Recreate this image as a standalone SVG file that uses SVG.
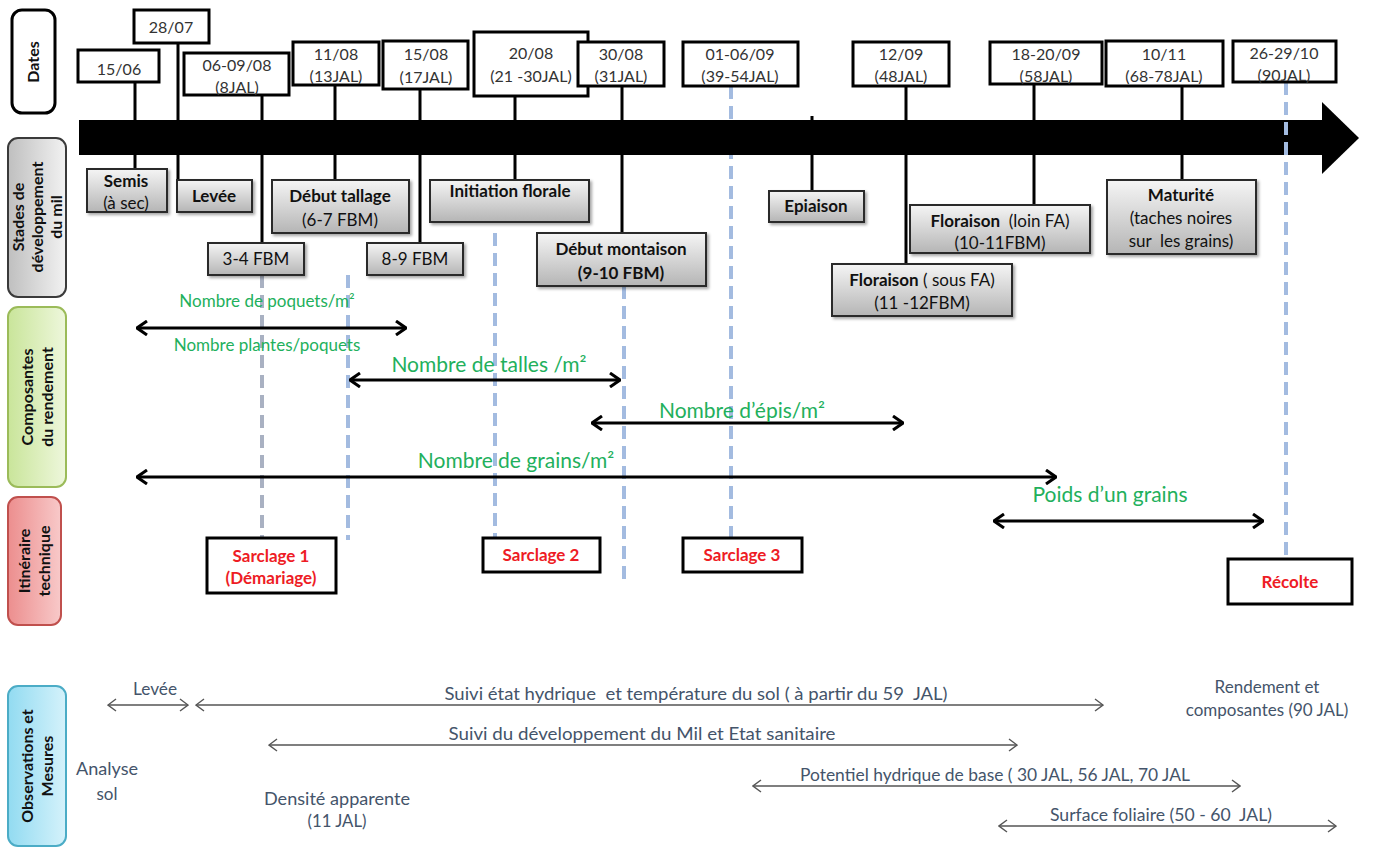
<svg xmlns="http://www.w3.org/2000/svg" width="1381" height="848" viewBox="0 0 1381 848">
<defs>
<linearGradient id="gStage" x1="0" y1="0" x2="0" y2="1"><stop offset="0" stop-color="#f5f5f5"/><stop offset="1" stop-color="#b5b5b5"/></linearGradient>
<linearGradient id="gGray" x1="0" y1="0" x2="1" y2="0"><stop offset="0" stop-color="#bfbfbf"/><stop offset="1" stop-color="#f2f2f2"/></linearGradient>
<linearGradient id="gGreen" x1="0" y1="0" x2="1" y2="0"><stop offset="0" stop-color="#c9e59a"/><stop offset="1" stop-color="#eef7dc"/></linearGradient>
<linearGradient id="gRed" x1="0" y1="0" x2="1" y2="0"><stop offset="0" stop-color="#ec8e8e"/><stop offset="1" stop-color="#f8c9c9"/></linearGradient>
<linearGradient id="gBlue" x1="0" y1="0" x2="1" y2="0"><stop offset="0" stop-color="#92dbf1"/><stop offset="1" stop-color="#d5f2fb"/></linearGradient>
<filter id="sh" x="-10%" y="-10%" width="130%" height="140%"><feDropShadow dx="2" dy="2" stdDeviation="1.5" flood-color="#000" flood-opacity="0.35"/></filter>
<marker id="ah" viewBox="0 0 12 16" refX="11" refY="8" markerWidth="12" markerHeight="16" markerUnits="userSpaceOnUse" orient="auto-start-reverse"><path d="M1,1 L11,8 L1,15" fill="none" stroke="#000" stroke-width="3" stroke-linejoin="miter"/></marker>
<marker id="ahs" viewBox="0 0 10 14" refX="9" refY="7" markerWidth="10" markerHeight="14" markerUnits="userSpaceOnUse" orient="auto-start-reverse"><path d="M1,1 L9,7 L1,13" fill="none" stroke="#555" stroke-width="1.4"/></marker>
<style>
text{font-family:Lato,"Liberation Sans",sans-serif;white-space:pre}
.date{fill:#fff;stroke:#000;stroke-width:3}
.dt{font-size:16px;fill:#333;text-anchor:middle}
.stage{fill:url(#gStage);stroke:#2b2b2b;stroke-width:2;filter:url(#sh)}
.st{font-size:17px;fill:#111;text-anchor:middle}
.b{font-weight:bold}
.conn{stroke:#000;stroke-width:3;fill:none}
.dash{stroke:#a3bbe0;stroke-width:4;stroke-dasharray:13 7;fill:none}
.dashg{stroke:#a9b1c2;stroke-width:4;stroke-dasharray:13 7;fill:none}
.arr{stroke:#000;stroke-width:3;fill:none;marker-start:url(#ah);marker-end:url(#ah)}
.arrs{stroke:#555;stroke-width:1.3;fill:none}
.gr{fill:#22b05c;text-anchor:middle}
.sar{fill:#fff;stroke:#000;stroke-width:3}
.rt{font-size:17px;font-weight:bold;fill:#ee1c25;text-anchor:middle}
.ot{font-size:17px;fill:#44546a;text-anchor:middle}
.lab{font-size:16px;font-weight:bold;fill:#111;text-anchor:middle}
</style>
</defs>

<!-- Row labels -->
<g id="label-dates"><rect x="12" y="10" width="43" height="103" rx="10" fill="#fff" stroke="#000" stroke-width="3"/><text class="lab" transform="translate(33.5,62) rotate(-90)" dy="5">Dates</text></g>
<g id="label-stades"><rect x="8" y="138" width="58" height="159" rx="10" fill="url(#gGray)" stroke="#3a3a3a" stroke-width="2"/><text class="lab" transform="translate(37,217) rotate(-90)"><tspan x="0" y="-13">Stades de</tspan><tspan x="0" y="6">développement</tspan><tspan x="0" y="25">du mil</tspan></text></g>
<g id="label-composantes"><rect x="8" y="307" width="58" height="180" rx="10" fill="url(#gGreen)" stroke="#9bbb59" stroke-width="2"/><text class="lab" transform="translate(37,397) rotate(-90)"><tspan x="0" y="-4">Composantes</tspan><tspan x="0" y="16">du rendement</tspan></text></g>
<g id="label-itineraire"><rect x="8" y="497" width="53" height="128" rx="10" fill="url(#gRed)" stroke="#c0504d" stroke-width="2"/><text class="lab" transform="translate(34,561) rotate(-90)"><tspan x="0" y="-4">Itinéraire</tspan><tspan x="0" y="16">technique</tspan></text></g>
<g id="label-observations"><rect x="8" y="686" width="58" height="160" rx="10" fill="url(#gBlue)" stroke="#4bacc6" stroke-width="2"/><text class="lab" transform="translate(37,766) rotate(-90)"><tspan x="0" y="-4">Observations et</tspan><tspan x="0" y="16">Mesures</tspan></text></g>

<!-- Connectors -->
<g id="connectors">
<path class="dash" d="M348,275 V540 M495,233 V540 M624,286 V583 M731,86 V538"/>
<path class="dashg" d="M262,275 V538"/>
<path class="conn" d="M135,82 V120 M135,155 V169 M178,43 V120 M178,155 V180 M262,95 V120 M262,155 V243 M335,85 V120 M335,155 V180 M420,89 V120 M420,155 V243 M515,86 V120 M515,155 V180 M622,86 V120 M622,155 V233 M812,116 V120 M812,155 V191 M906,86 V120 M906,155 V264 M1034,84 V120 M1034,155 V205 M1182,86 V120 M1182,155 V180"/>
<line class="arr" x1="137" y1="328" x2="406" y2="328"/>
<line class="arr" x1="350" y1="380" x2="620" y2="380"/>
<line class="arr" x1="592" y1="423" x2="903" y2="423"/>
<line class="arr" x1="137" y1="477" x2="1056" y2="477"/>
<line class="arr" x1="994" y1="521" x2="1263" y2="521"/>
<line class="arrs" x1="108" y1="705" x2="188" y2="705" marker-start="url(#ahs)" marker-end="url(#ahs)"/>
<line class="arrs" x1="196" y1="705" x2="1103" y2="705" marker-start="url(#ahs)" marker-end="url(#ahs)"/>
<line class="arrs" x1="269" y1="745" x2="1017" y2="745" marker-start="url(#ahs)" marker-end="url(#ahs)"/>
<line class="arrs" x1="753" y1="786" x2="1240" y2="786" marker-start="url(#ahs)" marker-end="url(#ahs)"/>
<line class="arrs" x1="999" y1="826" x2="1336" y2="826" marker-start="url(#ahs)" marker-end="url(#ahs)"/>
</g>

<!-- Timeline -->
<g id="timeline">
<rect x="79" y="120" width="1245" height="35" fill="#000"/>
<polygon points="1322,102 1359,138 1322,174" fill="#000"/>
<path class="dash" d="M1286,82 V558"/>
</g>

<!-- Dates -->
<g id="d1"><rect class="date" x="78" y="50" width="81" height="32"/><text class="dt" x="119" y="75">15/06</text></g>
<g id="d2"><rect class="date" x="134" y="10" width="75" height="33"/><text class="dt" x="171" y="33">28/07</text></g>
<g id="d3"><rect class="date" x="184" y="53" width="105" height="42"/><text class="dt" x="237" y="71">06-09/08</text><text class="dt" x="237" y="93">(8JAL)</text></g>
<g id="d4"><rect class="date" x="293" y="42" width="86" height="43"/><text class="dt" x="336" y="60">11/08</text><text class="dt" x="336" y="82">(13JAL)</text></g>
<g id="d5"><rect class="date" x="383" y="41" width="85" height="48"/><text class="dt" x="426" y="60">15/08</text><text class="dt" x="426" y="83">(17JAL)</text></g>
<g id="d6"><rect class="date" x="474" y="32" width="114" height="64"/><text class="dt" x="531" y="59">20/08</text><text class="dt" x="531" y="82">(21 -30JAL)</text></g>
<g id="d7"><rect class="date" x="578" y="42" width="86" height="44"/><text class="dt" x="621" y="60">30/08</text><text class="dt" x="621" y="82">(31JAL)</text></g>
<g id="d8"><rect class="date" x="683" y="42" width="115" height="44"/><text class="dt" x="740" y="60">01-06/09</text><text class="dt" x="740" y="82">(39-54JAL)</text></g>
<g id="d9"><rect class="date" x="853" y="42" width="96" height="44"/><text class="dt" x="901" y="60">12/09</text><text class="dt" x="901" y="82">(48JAL)</text></g>
<g id="d10"><rect class="date" x="990" y="42" width="112" height="42"/><text class="dt" x="1046" y="60">18-20/09</text><text class="dt" x="1046" y="82">(58JAL)</text></g>
<g id="d11"><rect class="date" x="1106" y="41" width="117" height="45"/><text class="dt" x="1164" y="60">10/11</text><text class="dt" x="1164" y="82">(68-78JAL)</text></g>
<g id="d12"><rect class="date" x="1233" y="41" width="103" height="41"/><text class="dt" x="1284" y="59">26-29/10</text><text class="dt" x="1284" y="81">(90JAL)</text></g>

<!-- Stages -->
<g id="s-semis"><rect class="stage" x="87" y="169" width="80" height="43"/><text class="st b" x="126" y="187">Semis</text><text class="st" x="126" y="209">(à sec)</text></g>
<g id="s-levee"><rect class="stage" x="177" y="180" width="75" height="32"/><text class="st b" x="214" y="202">Levée</text></g>
<g id="s-tallage"><rect class="stage" x="272" y="180" width="137" height="53"/><text class="st b" x="340" y="202">Début tallage</text><text class="st" x="340" y="226">(6-7 FBM)</text></g>
<g id="s-initiation"><rect class="stage" x="430" y="180" width="159" height="42"/><text class="st b" x="510" y="197">Initiation florale</text></g>
<g id="s-34"><rect class="stage" x="208" y="243" width="96" height="32"/><text class="st" x="256" y="265">3-4 FBM</text></g>
<g id="s-89"><rect class="stage" x="367" y="243" width="96" height="32"/><text class="st" x="415" y="265">8-9 FBM</text></g>
<g id="s-montaison"><rect class="stage" x="537" y="233" width="169" height="53"/><text class="st b" x="621" y="255">Début montaison</text><text class="st b" x="621" y="279">(9-10 FBM)</text></g>
<g id="s-epiaison"><rect class="stage" x="769" y="191" width="95" height="31"/><text class="st b" x="816" y="212">Epiaison</text></g>
<g id="s-flor-loin"><rect class="stage" x="910" y="205" width="180" height="48"/><text class="st" x="1000" y="227"><tspan class="b">Floraison</tspan>  (loin FA)</text><text class="st" x="1000" y="249">(10-11FBM)</text></g>
<g id="s-flor-sous"><rect class="stage" x="832" y="264" width="180" height="52"/><text class="st" x="922" y="286"><tspan class="b">Floraison</tspan> ( sous FA)</text><text class="st" x="922" y="309">(11 -12FBM)</text></g>
<g id="s-maturite"><rect class="stage" x="1107" y="180" width="149" height="74"/><text class="st b" x="1181" y="201">Maturité</text><text class="st" x="1181" y="224">(taches noires</text><text class="st" x="1181" y="247">sur  les grains)</text></g>

<!-- Composantes labels -->
<g id="c-poquets"><text class="gr" x="267" y="307" font-size="17">Nombre de poquets/m²</text><text class="gr" x="267" y="351" font-size="17">Nombre plantes/poquets</text></g>
<g id="c-talles"><text class="gr" x="489" y="372" font-size="21">Nombre de talles /m²</text></g>
<g id="c-epis"><text class="gr" x="742" y="418" font-size="21">Nombre d’épis/m²</text></g>
<g id="c-grains"><text class="gr" x="516" y="468" font-size="21">Nombre de grains/m²</text></g>
<g id="c-poids"><text class="gr" x="1110" y="502" font-size="21">Poids d’un grains</text></g>

<!-- Itineraire -->
<g id="i-s1"><rect class="sar" x="207" y="538" width="129" height="55"/><text class="rt" x="271" y="562">Sarclage 1</text><text class="rt" x="271" y="584">(Démariage)</text></g>
<g id="i-s2"><rect class="sar" x="483" y="538" width="117" height="34"/><text class="rt" x="541" y="561">Sarclage 2</text></g>
<g id="i-s3"><rect class="sar" x="683" y="538" width="119" height="34"/><text class="rt" x="742" y="561">Sarclage 3</text></g>
<g id="i-recolte"><rect class="sar" x="1228" y="559" width="124" height="45"/><text class="rt" x="1290" y="588">Récolte</text></g>

<!-- Observations -->
<g id="o-levee"><text class="ot" x="155" y="695" textLength="44" lengthAdjust="spacingAndGlyphs">Levée</text></g>
<g id="o-hydrique"><text class="ot" x="696" y="700" textLength="503" lengthAdjust="spacingAndGlyphs">Suivi état hydrique  et température du sol ( à partir du 59  JAL)</text></g>
<g id="o-rendement"><text class="ot" x="1267" y="693">Rendement et</text><text class="ot" x="1267" y="716">composantes (90 JAL)</text></g>
<g id="o-dev"><text class="ot" x="642" y="740" textLength="387" lengthAdjust="spacingAndGlyphs">Suivi du développement du Mil et Etat sanitaire</text></g>
<g id="o-analyse"><text class="ot" x="107" y="775" textLength="62" lengthAdjust="spacingAndGlyphs">Analyse</text><text class="ot" x="107" y="800">sol</text></g>
<g id="o-potentiel"><text class="ot" x="995" y="781" textLength="390" lengthAdjust="spacingAndGlyphs">Potentiel hydrique de base ( 30 JAL, 56 JAL, 70 JAL</text></g>
<g id="o-densite"><text class="ot" x="337" y="805" textLength="146" lengthAdjust="spacingAndGlyphs">Densité apparente</text><text class="ot" x="337" y="827" textLength="59" lengthAdjust="spacingAndGlyphs">(11 JAL)</text></g>
<g id="o-surface"><text class="ot" x="1161" y="821" textLength="222" lengthAdjust="spacingAndGlyphs">Surface foliaire (50 - 60  JAL)</text></g>
</svg>
